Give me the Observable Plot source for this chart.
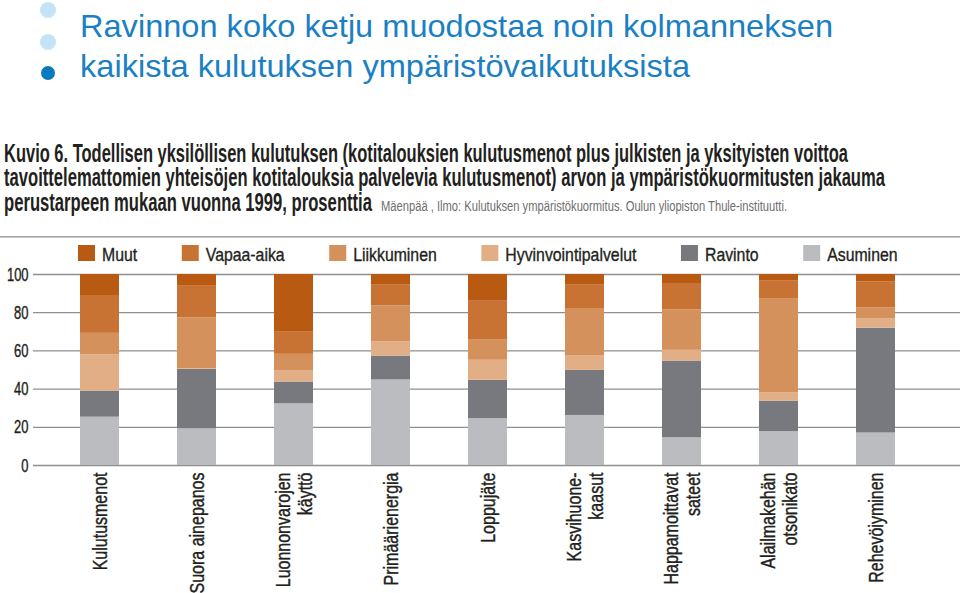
<!DOCTYPE html>
<html><head><meta charset="utf-8">
<script src="https://cdn.jsdelivr.net/npm/d3@7"></script>
<script src="https://cdn.jsdelivr.net/npm/@observablehq/plot@0.6"></script>
<style>
html,body{margin:0;padding:0;background:#fff;}
#wrap{position:relative;width:960px;height:593px;overflow:hidden;background:#fff;}
#wrap > svg{position:absolute;left:0;}
</style></head><body><div id="wrap"></div>
<script>
// ---------- texts ----------
const titleLines = ["Ravinnon koko ketju muodostaa noin kolmanneksen", "kaikista kulutuksen ympäristövaikutuksista"];
const figureLines = [
  "Kuvio 6. Todellisen yksilöllisen kulutuksen (kotitalouksien kulutusmenot plus julkisten ja yksityisten voittoa",
  "tavoittelemattomien yhteisöjen kotitalouksia palvelevia kulutusmenot) arvon ja ympäristökuormitusten jakauma",
  "perustarpeen mukaan vuonna 1999, prosenttia"
];
const sourceText = "Mäenpää , Ilmo: Kulutuksen ympäristökuormitus. Oulun yliopiston Thule-instituutti.";

// ---------- data ----------
const categories = ["Kulutusmenot", "Suora ainepanos", "Luonnonvarojen\nkäyttö", "Primäärienergia", "Loppujäte",
  "Kasvihuone-\nkaasut", "Happamoittavat\nsateet", "Alailmakehän\notsonikato", "Rehevöiyminen"];
const seriesNames = ["Muut", "Vapaa-aika", "Liikkuminen", "Hyvinvointipalvelut", "Ravinto", "Asuminen"]; // legend order
const seriesColors = ["#b85a12", "#c87333", "#d4915c", "#e2ae86", "#78797e", "#bbbcc0"];
const asuminen   = [25.3, 19.2, 32.3, 44.8, 24.5, 26.2, 14.5, 17.8, 17.0];
const ravinto    = [13.7, 31.1, 11.4, 12.5, 20.1, 23.6, 40.2, 15.9, 54.9];
const hyvinvointi= [19.0, 0.4, 6.0, 7.4, 10.5, 7.5, 5.6, 4.4, 5.0];
const liikkuminen= [11.2, 26.6, 8.5, 18.9, 10.8, 24.5, 21.2, 49.0, 5.6];
const vapaaaika  = [19.8, 16.9, 11.6, 10.8, 20.1, 12.6, 13.8, 9.4, 13.7];
const muut       = [11.0, 5.8, 30.2, 5.6, 14.0, 5.6, 4.7, 3.5, 3.8];
const yTicks = [0, 20, 40, 60, 80, 100];

const seriesValues = {"Muut": muut, "Vapaa-aika": vapaaaika, "Liikkuminen": liikkuminen,
  "Hyvinvointipalvelut": hyvinvointi, "Ravinto": ravinto, "Asuminen": asuminen};
const stackOrder = seriesNames.slice().reverse(); // bottom to top
const data = categories.flatMap((c, i) => stackOrder.map(s => ({category: c, series: s, value: seriesValues[s][i]})));

const FONT = "'Liberation Sans', Arial, Helvetica, sans-serif";
const INK = "#231f20";
const wrap = document.getElementById("wrap");

// condense a text (or its tspans) horizontally with textLength; returns the condensed width
function condense(el, s) {
  const spans = el.querySelectorAll("tspan");
  const targets = spans.length ? Array.from(spans) : [el];
  let maxW = 0;
  targets.forEach(t => {
    const w = t.getComputedTextLength() * s;
    maxW = Math.max(maxW, w);
    t.setAttribute("textLength", w.toFixed(2));
    t.setAttribute("lengthAdjust", "spacingAndGlyphs");
  });
  return maxW;
}

// ---------- header ----------
const head = d3.select(wrap).append("svg").attr("width", 960).attr("height", 236).style("top", "0px");
[[48, 10, 8, "#c6e2f5"], [48, 42, 8, "#c6e2f5"], [48, 73, 7, "#0b7bc0"]].forEach(([cx, cy, r, f]) =>
  head.append("circle").attr("cx", cx).attr("cy", cy).attr("r", r).attr("fill", f));
[[titleLines[0], 37, 753], [titleLines[1], 77, 610]].forEach(([t, y, w]) =>
  head.append("text").attr("x", 80).attr("y", y).attr("font-family", FONT).attr("font-size", 30.5)
    .attr("fill", "#1b80c3").attr("textLength", w).attr("lengthAdjust", "spacingAndGlyphs").text(t));
[[figureLines[0], 161.5, 844], [figureLines[1], 186, 881], [figureLines[2], 210.5, 368]].forEach(([t, y, w]) =>
  head.append("text").attr("x", 4).attr("y", y).attr("font-family", FONT).attr("font-size", 26)
    .attr("font-weight", "bold").attr("fill", INK).attr("textLength", w).attr("lengthAdjust", "spacingAndGlyphs").text(t));
head.append("text").attr("x", 381).attr("y", 210.5).attr("font-family", FONT).attr("font-size", 14)
  .attr("fill", "#6e6e6e").attr("textLength", 406).attr("lengthAdjust", "spacingAndGlyphs").text(sourceText);

// ---------- legend ----------
const leg = d3.select(wrap).append("svg").attr("width", 960).attr("height", 29).style("top", "236px");
leg.append("line").attr("x1", 0).attr("x2", 960).attr("y1", 0.8).attr("y2", 0.8).attr("stroke", "#8c8c8c").attr("stroke-width", 1.3);
let lx = 78;
const LS = 0.855;
seriesNames.forEach((name, i) => {
  leg.append("rect").attr("x", lx).attr("y", 9).attr("width", 17).attr("height", 16).attr("fill", seriesColors[i]);
  const t = leg.append("text").attr("x", lx + 24).attr("y", 25).attr("font-family", FONT).attr("font-size", 18.5)
    .attr("fill", INK).attr("stroke", INK).attr("stroke-width", 0.35).text(name);
  const w = condense(t.node(), LS);
  lx += 24 + w + 44.6;
});

// ---------- chart ----------
const chart = Plot.plot({
  width: 960,
  height: 328,
  marginTop: 9,
  marginBottom: 128,
  marginLeft: 33,
  marginRight: 0,
  x: {domain: categories, paddingInner: 0.595, paddingOuter: 0.544, align: 0.424, axis: null},
  y: {domain: [0, 100], axis: null},
  color: {domain: seriesNames, range: seriesColors},
  marks: [
    Plot.ruleY(yTicks, {stroke: "#8f8f8f", strokeWidth: 1.3}),
    Plot.barY(data, {x: "category", y: "value", fill: "series", order: stackOrder}),
    Plot.text(yTicks, {y: d => d, text: d => String(d), frameAnchor: "left", textAnchor: "end", dx: -5,
      fontSize: 19, fontFamily: FONT, fill: INK}),
    Plot.text(categories, {x: d => d, y: () => 0, text: d => d, rotate: -90, textAnchor: "end", lineAnchor: "middle",
      lineHeight: 1.1, dy: 7, fontSize: 20, fontFamily: FONT, fill: INK})
  ]
});
chart.style.position = "absolute";
chart.style.top = "265px";
chart.style.left = "0px";
chart.style.background = "transparent";
wrap.appendChild(chart);
d3.select(chart).selectAll("text").each(function() {
  const tr = this.getAttribute("transform") || "";
  condense(this, tr.includes("rotate") ? 0.8 : 0.68);
  this.setAttribute("stroke", INK);
  this.setAttribute("stroke-width", 0.4);
});
</script></body></html>
